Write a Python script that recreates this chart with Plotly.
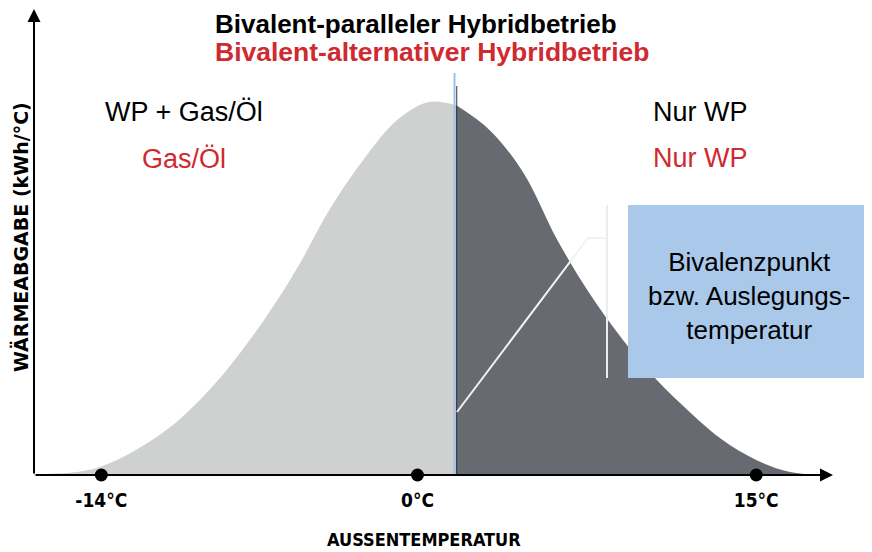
import plotly.graph_objects as go

# Wärmeabgabe-Kurve (kWh/°C, relativ) über der Außentemperatur
temp_left = [-17.0, -14.2, -11.3, -9.1, -6.8, -5.3, -3.9, -2.4, -0.9, 0.5, 1.7]
heat_left = [0.3, 1.9, 11.2, 23.5, 41.4, 55.6, 70.9, 84.2, 94.9, 99.7, 98.9]
temp_right = [1.7, 3.2, 4.7, 6.2, 7.6, 9.1, 10.6, 12.1, 13.5, 15.0, 16.5, 18.0]
heat_right = [98.9, 92.2, 80.7, 62.8, 48.7, 36.1, 25.4, 16.6, 9.4, 4.0, 0.8, 0.0]

bivalent_temp = 1.7
tick_temps = [-14, 0, 15]
tick_labels = ["-14°C", "0°C", "15°C"]

RED = "#cf2a2f"
ARIAL = "Arial, Liberation Sans, sans-serif"
NARROW = "Liberation Sans Narrow, DejaVu Sans Condensed, Arial Narrow, sans-serif"

# the page has an 8px body margin, so the figure is 8px smaller
W, H = 864, 544
L, R, T, B = 26, 39, 0, 77
PLOT_W, PLOT_H = W - L - R, H - T - B


# positions below are given in window pixels
def px(x):
    return (x - 34) / PLOT_W


def py(y):
    return (475 - y) / PLOT_H


fig = go.Figure()
fig.add_trace(go.Scatter(x=temp_left, y=heat_left, mode="lines", line=dict(shape="spline", width=0, color="#cfd0d0"),
                         fill="tozeroy", fillcolor="#cfd0d0", hoverinfo="skip"))
fig.add_trace(go.Scatter(x=temp_right, y=heat_right, mode="lines", line=dict(shape="spline", width=0, color="#676a71"),
                         fill="tozeroy", fillcolor="#676a71", hoverinfo="skip"))
fig.add_trace(go.Scatter(x=tick_temps, y=[0] * len(tick_temps), mode="markers",
                         marker=dict(size=13, color="black"), cliponaxis=False, hoverinfo="skip"))

shapes = [
    # Trennlinie Bivalenzpunkt
    dict(type="line", xref="x", yref="y", x0=bivalent_temp - 0.06, x1=bivalent_temp - 0.06, y0=0, y1=107.5,
         line=dict(color="#9dc3e6", width=2)),
    dict(type="line", xref="x", yref="y", x0=bivalent_temp + 0.04, x1=bivalent_temp + 0.04, y0=0, y1=104,
         line=dict(color="#2f3440", width=1)),
    # Infobox
    dict(type="rect", xref="paper", yref="paper", x0=px(628), x1=px(870), y0=py(378), y1=py(205),
         fillcolor="#a9c8ea", line=dict(width=0), layer="above"),
    # Hinweislinien
    dict(type="path", xref="paper", yref="paper",
         path=f"M {px(457)} {py(412)} L {px(588)} {py(238)} L {px(607)} {py(238)}",
         line=dict(color="#f2f2f2", width=2)),
    dict(type="line", xref="paper", yref="paper", x0=px(607), x1=px(607), y0=py(378), y1=py(205),
         line=dict(color="#ececec", width=2)),
]

annotations = [
    dict(x=px(213), y=py(24), text="<b>Bivalent-paralleler Hybridbetrieb</b>", xanchor="left",
         font=dict(size=26, color="black", family=ARIAL)),
    dict(x=px(213), y=py(52), text="<b>Bivalent-alternativer Hybridbetrieb</b>", xanchor="left",
         font=dict(size=26.5, color=RED, family=ARIAL)),
    dict(x=px(184), y=py(112), text="WP + Gas/Öl", font=dict(size=27, color="black", family=ARIAL)),
    dict(x=px(184), y=py(159), text="Gas/Öl", font=dict(size=27, color=RED, family=ARIAL)),
    dict(x=px(700), y=py(112), text="Nur WP", font=dict(size=27, color="black", family=ARIAL)),
    dict(x=px(700), y=py(158), text="Nur WP", font=dict(size=27, color=RED, family=ARIAL)),
    dict(x=px(749), y=py(296), text="Bivalenzpunkt<br>bzw. Auslegungs-<br>temperatur",
         font=dict(size=26, color="black", family=ARIAL)),
    dict(x=px(20), y=py(237), text="<b>WÄRMEABGABE (kWh/°C)</b>", textangle=-90,
         font=dict(size=19, color="black", family="DejaVu Sans, sans-serif")),
    dict(x=px(424), y=py(539), text="<b>AUSSENTEMPERATUR</b>", font=dict(size=18, color="black", family=NARROW)),
    # Achsenpfeile
    dict(x=1, y=0, xref="paper", yref="paper", ax=-PLOT_W, ay=0, text="", showarrow=True,
         arrowhead=2, arrowsize=1.3, arrowwidth=2, arrowcolor="black", standoff=0),
    dict(x=0, y=1, xref="paper", yref="paper", ax=0, ay=PLOT_H, text="", showarrow=True,
         arrowhead=2, arrowsize=1.3, arrowwidth=2, arrowcolor="black", standoff=0),
]
for a in annotations:
    a.setdefault("xref", "paper")
    a.setdefault("yref", "paper")
    a.setdefault("showarrow", False)
    a.setdefault("xanchor", "center")
    a.setdefault("yanchor", "middle")

fig.update_layout(
    width=W, height=H,
    margin=dict(l=L, r=R, t=T, b=B),
    paper_bgcolor="white", plot_bgcolor="white",
    showlegend=False,
    shapes=shapes,
    annotations=annotations,
    xaxis=dict(range=[-16.98, 18.40], tickvals=tick_temps, ticktext=tick_labels, showgrid=False,
               zeroline=False, showline=False, ticks="", ticklabelstandoff=12,
               tickfont=dict(size=19, color="black", family=NARROW, weight="bold")),
    yaxis=dict(range=[0, PLOT_H / 3.74], showgrid=False, zeroline=False, showline=False, showticklabels=False),
)

fig.write_html("out.html")
